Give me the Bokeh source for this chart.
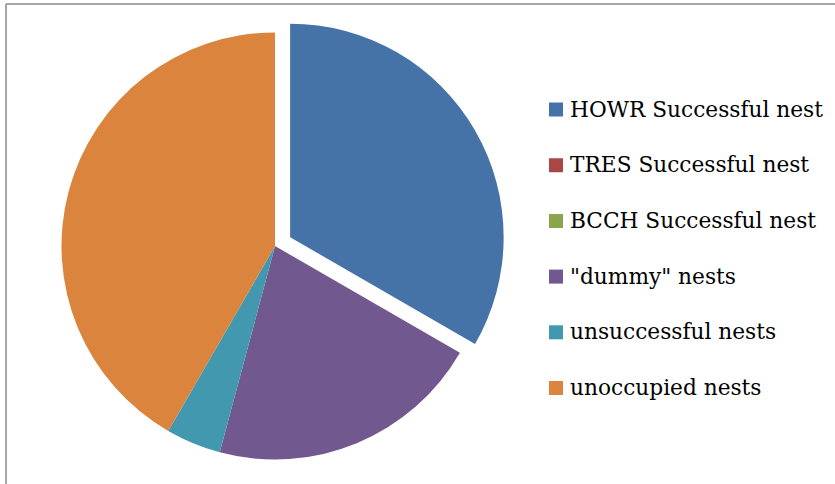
import math
from bokeh.plotting import figure
from bokeh.models import Range1d, ColumnDataSource
from bokeh.core.properties import value
from bokeh.embed import file_html
from bokeh.resources import INLINE

# ---- data ----
categories = ["HOWR Successful nest", "TRES Successful nest", "BCCH Successful nest",
              "\"dummy\" nests", "unsuccessful nests", "unoccupied nests"]
counts = [8, 0, 0, 5, 1, 10]
colors = ["#4572A7", "#AA4643", "#89A54E", "#71588F", "#4198AF", "#DB843D"]
explode = [17.5, 0, 0, 0, 0, 0]

W, H = 835, 484
p = figure(width=W, height=H, output_backend="svg", toolbar_location=None,
           x_range=Range1d(0, W), y_range=Range1d(0, H),
           min_border=0, outline_line_color=None, background_fill_color="white")
p.axis.visible = False
p.xgrid.visible = False
p.ygrid.visible = False

# pie geometry (pixel-like coordinates, y up)
cx, cy, r = 274.5, H - 245.5, 213.5
total = float(sum(counts))
xs, ys, starts, ends, cols = [], [], [], [], []
cum = 0.0
for v, c, e in zip(counts, colors, explode):
    a0 = math.pi / 2 - cum / total * 2 * math.pi
    cum += v
    a1 = math.pi / 2 - cum / total * 2 * math.pi
    if v <= 0:
        continue
    mid = (a0 + a1) / 2
    xs.append(cx + e * math.cos(mid))
    ys.append(cy + e * math.sin(mid))
    starts.append(a0)
    ends.append(a1)
    cols.append(c)

src = ColumnDataSource(dict(x=xs, y=ys, s=starts, e=ends, c=cols))
p.wedge(x="x", y="y", radius=r, start_angle="s", end_angle="e", direction="clock",
        fill_color="c", line_color=None, source=src)

# legend
lx, ly0, step, sq = 548.5, 102.0, 55.7, 14
lsrc = ColumnDataSource(dict(
    x=[lx + sq / 2] * len(categories),
    y=[H - (ly0 + i * step + sq / 2) for i in range(len(categories))],
    ty=[H - (ly0 + i * step + sq - 7.5) for i in range(len(categories))],
    tx=[lx + 21] * len(categories),
    c=colors, t=categories))
p.rect(x="x", y="y", width=sq, height=sq, fill_color="c", line_color=None, source=lsrc)
p.text(x="tx", y="ty", text="t", text_font=value("DejaVu Serif"), text_font_size="21.7px",
       text_color="#000000", text_baseline="alphabetic", text_align="left", source=lsrc)

# frame (top and left edges of the chart border)
p.segment(x0=[5.5, 5.5], y0=[H - 3.5, H - 3.5], x1=[W, 5.5], y1=[H - 3.5, 0],
          line_color="#8a8a8a", line_width=1.5)

open("out.html", "w").write(file_html(p, INLINE))
